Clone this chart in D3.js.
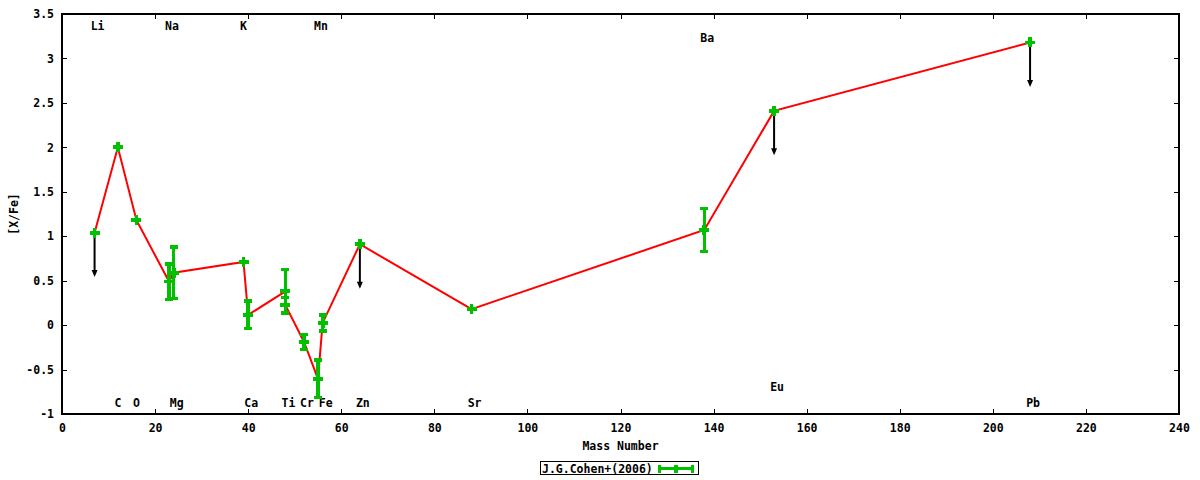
<!DOCTYPE html>
<html>
<head>
<meta charset="utf-8">
<script src="https://cdn.jsdelivr.net/npm/d3@7"></script>
<style>
  html, body { margin: 0; padding: 0; background: #fff; }
  svg { display: block; }
  text { font-family: "DejaVu Sans Mono", monospace; font-weight: bold; font-size: 11.5px; fill: #000; }
</style>
</head>
<body>
<svg id="chart" width="1200" height="480"></svg>
<script>
// J.G.Cohen+(2006): [X/Fe] against mass number
const elements = ['Li', 'C', 'O', 'Na', 'Mg', 'K', 'Ca', 'Ti', 'Ti', 'Cr', 'Mn', 'Fe', 'Zn', 'Sr', 'Ba', 'Eu', 'Pb'];
const massNumbers = [7, 12, 16, 23, 24, 39, 40, 48, 48, 52, 55, 56, 64, 88, 138, 153, 208];
const xFe = [1.04, 2.00, 1.18, 0.49, 0.59, 0.71, 0.115, 0.38, 0.225, -0.19, -0.605, 0.025, 0.91, 0.18, 1.07, 2.41, 3.18];
const xFeErr = [0, 0, 0, 0.20, 0.29, 0, 0.155, 0.245, 0.085, 0.085, 0.21, 0.09, 0, 0, 0.24, 0, 0];
const upperLimit = [true, false, false, false, false, false, false, false, false, false, false, false, true, false, false, true, true];

// element labels along the top and bottom of the frame
const labelNames = ['Li', 'Na', 'K', 'Mn', 'Ba', 'C', 'O', 'Mg', 'Ca', 'Ti', 'Cr', 'Fe', 'Zn', 'Sr', 'Eu', 'Pb'];
const labelMass = [7, 23, 39, 55, 138, 12, 16, 24, 40, 48, 52, 56, 64, 88, 153, 208];
const labelY = [3.36, 3.36, 3.36, 3.36, 3.23, -0.88, -0.88, -0.88, -0.88, -0.88, -0.88, -0.88, -0.88, -0.88, -0.70, -0.88];

const xTicks = d3.range(0, 241, 20);
const yTicks = d3.range(-1, 3.51, 0.5);

const GREEN = '#00c000';
const LIMIT_LEN = 0.5;

const svg = d3.select('#chart');
const x = d3.scaleLinear().domain([0, 240]).range([62, 1179]);
const y = d3.scaleLinear().domain([-1, 3.5]).range([414, 14]);

// axes, ticks pointing inward on all four sides
{
    const bottom = svg.append('g')
        .attr('transform', `translate(0,${y(-1)})`)
        .call(d3.axisBottom(x).tickValues(xTicks).tickSize(-5).tickSizeOuter(0).tickPadding(10));
    const left = svg.append('g')
        .attr('transform', `translate(${x(0)},0)`)
        .call(d3.axisLeft(y).tickValues(yTicks).tickSize(-5).tickSizeOuter(0).tickPadding(8)
            .tickFormat((d) => String(+d.toFixed(1))));
    svg.append('g')
        .attr('transform', `translate(0,${y(3.5)})`)
        .call(d3.axisTop(x).tickValues(xTicks).tickSize(-5).tickSizeOuter(0).tickFormat(''));
    svg.append('g')
        .attr('transform', `translate(${x(240)},0)`)
        .call(d3.axisRight(y).tickValues(yTicks).tickSize(-5).tickSizeOuter(0).tickFormat(''));

    svg.selectAll('.domain').remove();
    svg.selectAll('.tick line').attr('stroke', '#000').attr('shape-rendering', 'crispEdges');
    svg.selectAll('.tick text').attr('font-family', null).attr('font-size', null);
    bottom.attr('font-size', null).attr('font-family', null);
    left.attr('font-size', null).attr('font-family', null);

    svg.append('rect')
        .attr('x', x(0)).attr('y', y(3.5))
        .attr('width', x(240) - x(0)).attr('height', y(-1) - y(3.5))
        .attr('fill', 'none').attr('stroke', '#000').attr('stroke-width', 1.2)
        .attr('shape-rendering', 'crispEdges');
}

// axis titles
svg.append('text')
    .attr('x', (x(0) + x(240)) / 2).attr('y', 446).attr('dy', '0.35em')
    .attr('text-anchor', 'middle')
    .text('Mass Number');
svg.append('text')
    .attr('transform', `translate(14,${(y(-1) + y(3.5)) / 2}) rotate(-90)`)
    .attr('dy', '0.35em')
    .attr('text-anchor', 'middle')
    .text('[X/Fe]');

// element labels
svg.append('g').selectAll('text')
    .data(labelNames)
    .enter().append('text')
    .attr('x', (d, i) => x(labelMass[i]) + (d.length - 1) * 3)
    .attr('y', (d, i) => y(labelY[i]))
    .attr('dy', '0.35em')
    .attr('text-anchor', 'middle')
    .text((d) => d);

const points = elements.map((el, i) => ({
    el, m: massNumbers[i], v: xFe[i], err: xFeErr[i], lim: upperLimit[i],
}));

// connecting line
svg.append('path')
    .datum(points)
    .attr('fill', 'none')
    .attr('stroke', '#ff0000')
    .attr('stroke-width', 2)
    .attr('d', d3.line().x((d) => x(d.m)).y((d) => y(d.v)));

// upper limits
const lims = svg.append('g').selectAll('g')
    .data(points.filter((d) => d.lim))
    .enter().append('g');
lims.append('line')
    .attr('x1', (d) => x(d.m)).attr('x2', (d) => x(d.m))
    .attr('y1', (d) => y(d.v)).attr('y2', (d) => y(d.v - LIMIT_LEN) - 4)
    .attr('stroke', '#000').attr('stroke-width', 2);
lims.append('path')
    .attr('d', (d) => {
        const cx = x(d.m);
        const ty = y(d.v - LIMIT_LEN);
        return `M${cx - 3},${ty - 7}L${cx + 3},${ty - 7}L${cx},${ty}Z`;
    })
    .attr('fill', '#000');

// error bars
const errs = svg.append('g').selectAll('g')
    .data(points.filter((d) => d.err > 0))
    .enter().append('g')
    .attr('stroke', GREEN).attr('stroke-width', 3.5)
    .attr('shape-rendering', 'crispEdges');
errs.append('line')
    .attr('x1', (d) => x(d.m)).attr('x2', (d) => x(d.m))
    .attr('y1', (d) => y(d.v + d.err)).attr('y2', (d) => y(d.v - d.err));
errs.append('line')
    .attr('x1', (d) => x(d.m) - 4).attr('x2', (d) => x(d.m) + 4)
    .attr('y1', (d) => y(d.v + d.err)).attr('y2', (d) => y(d.v + d.err));
errs.append('line')
    .attr('x1', (d) => x(d.m) - 4).attr('x2', (d) => x(d.m) + 4)
    .attr('y1', (d) => y(d.v - d.err)).attr('y2', (d) => y(d.v - d.err));

// point markers (+)
svg.append('g').selectAll('path')
    .data(points)
    .enter().append('path')
    .attr('d', (d) => {
        const cx = x(d.m);
        const cy = y(d.v);
        return `M${cx - 5},${cy}H${cx + 5}M${cx},${cy - 5}V${cy + 5}`;
    })
    .attr('stroke', GREEN).attr('stroke-width', 3.8)
    .attr('shape-rendering', 'crispEdges');

// legend
{
    const lg = svg.append('g');
    lg.append('rect')
        .attr('x', 540.5).attr('y', 461.5).attr('width', 158).attr('height', 13)
        .attr('fill', '#fff').attr('stroke', '#000').attr('stroke-width', 1);
    lg.append('text')
        .attr('x', 542).attr('y', 468.5).attr('dy', '0.35em')
        .text('J.G.Cohen+(2006)');
    const sy = 468.5;
    lg.append('path')
        .attr('d', `M658,${sy}H694M659.5,${sy - 4}V${sy + 4}M692.5,${sy - 4}V${sy + 4}M676,${sy - 4}V${sy + 4}`)
        .attr('stroke', GREEN).attr('stroke-width', 3.5).attr('fill', 'none')
        .attr('shape-rendering', 'crispEdges');
}
</script>
</body>
</html>
